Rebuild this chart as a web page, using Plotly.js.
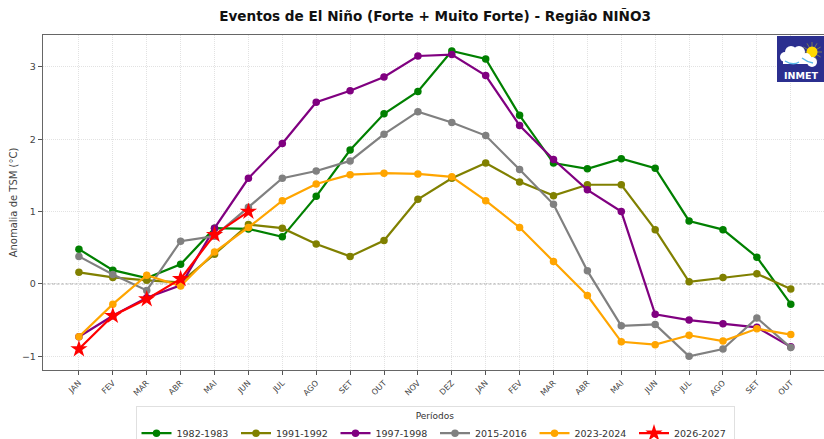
<!DOCTYPE html>
<html><head><meta charset="utf-8">
<script src="https://cdn.plot.ly/plotly-3.0.1.min.js"></script>
<style>html,body{margin:0;padding:0;background:#fff;overflow:hidden}#c{width:824px;height:439px}</style>
</head><body><div id="c"></div>
<script>
const months = ['JAN','FEV','MAR','ABR','MAI','JUN','JUL','AGO','SET','OUT','NOV','DEZ','JAN','FEV','MAR','ABR','MAI','JUN','JUL','AGO','SET','OUT'];
const v1982 = [0.48,0.19,0.08,0.27,0.77,0.76,0.65,1.21,1.85,2.35,2.66,3.22,3.11,2.33,1.67,1.59,1.73,1.60,0.87,0.75,0.37,-0.28];
const v1991 = [0.16,0.09,0.05,0.02,0.41,0.82,0.77,0.55,0.38,0.60,1.17,1.46,1.67,1.41,1.22,1.37,1.37,0.75,0.03,0.09,0.14,-0.07];
const v1997 = [-0.73,-0.44,-0.19,-0.02,0.77,1.46,1.94,2.51,2.67,2.86,3.15,3.17,2.88,2.19,1.72,1.30,1.00,-0.42,-0.50,-0.55,-0.60,-0.87];
const v2015 = [0.38,0.13,-0.09,0.59,0.66,1.06,1.46,1.56,1.70,2.07,2.38,2.23,2.05,1.58,1.10,0.18,-0.58,-0.56,-1.00,-0.90,-0.47,-0.88];
const v2023 = [-0.73,-0.28,0.12,-0.03,0.44,0.78,1.15,1.38,1.51,1.53,1.52,1.48,1.15,0.78,0.31,-0.16,-0.80,-0.84,-0.71,-0.79,-0.62,-0.70];
const v2026 = [-0.90,-0.44,-0.21,0.07,0.68,1.00];
const idx = months.map((_, i) => i);
const font = 'DejaVu Sans, sans-serif';
function tr(name, y, color, star) {
  return {x: idx.slice(0, y.length), y, name, type: 'scatter', mode: 'lines+markers',
    line: {color, width: 2.2},
    marker: {color, size: star ? 13 : 7.5, symbol: star ? 'star' : 'circle', line: {width: 0}}};
}
const traces = [
  tr('1982-1983', v1982, 'green'),
  tr('1991-1992', v1991, 'olive'),
  tr('1997-1998', v1997, 'purple'),
  tr('2015-2016', v2015, 'gray'),
  tr('2023-2024', v2023, 'orange'),
  tr('2026-2027', v2026, 'red', true)
];
const L = 43, T = 35, W = 781, H = 335;
const px = x => (x - L) / W, py = y => 1 - (y - T) / H;
const logo = '<svg xmlns="http://www.w3.org/2000/svg" width="188" height="184" viewBox="0 0 47 46">' +
  '<rect width="47" height="46" fill="#2b2f8f"/>' +
  '<g stroke="#8a8a50" stroke-width="0.8">' +
  [0,30,60,90,120,150,180,210,240,270,300,330].map(a => `<line x1="35" y1="16" x2="${35+10*Math.cos(a*Math.PI/180)}" y2="${16+10*Math.sin(a*Math.PI/180)}"/>`).join('') +
  '</g><circle cx="35" cy="16" r="5.5" fill="#ffd900"/>' +
  '<g fill="#fff"><circle cx="8" cy="21" r="5"/><circle cx="14" cy="16" r="6"/><circle cx="22" cy="16" r="6"/><circle cx="29" cy="22" r="5"/><circle cx="35" cy="26" r="5"/><rect x="6" y="20" width="28" height="8"/></g>' +
  '<path d="M8 25 Q16 30 22 26 M25 22 Q30 26 36 27" stroke="#5ab8e8" stroke-width="1.4" fill="none"/></svg>';
const layout = {
  width: 824, height: 439,
  margin: {l: L, r: 0, t: T, b: 69, pad: 0, autoexpand: false},
  paper_bgcolor: '#fff', plot_bgcolor: '#fff',
  font: {family: font, color: '#333'},
  title: {text: '<b>Eventos de El Niño (Forte + Muito Forte) - Região NIÑO3</b>', font: {family: font, size: 13.6, color: '#111'}, x: 0.528, xref: 'container', xanchor: 'center', y: 0.963, yanchor: 'middle'},
  xaxis: {range: [-1.06, 21.98], tickvals: idx, ticktext: months, tickangle: -45,
    tickfont: {family: font, size: 8, color: '#444'}, ticks: 'outside', ticklen: 4, tickcolor: '#555',
    showgrid: true, gridcolor: '#e2e2e2', griddash: '1px,1px', gridwidth: 1, zeroline: false,
    showline: true, linecolor: '#666', linewidth: 1.4, mirror: true},
  yaxis: {range: [-1.19, 3.44], tickvals: [-1, 0, 1, 2, 3], ticktext: ['−1', '0', '1', '2', '3'],
    tickfont: {family: font, size: 9.5, color: '#444'}, ticks: 'outside', ticklen: 4, tickcolor: '#555',
    title: {text: 'Anomalia de TSM (°C)', font: {family: font, size: 10, color: '#444'}, standoff: 2},
    showgrid: true, gridcolor: '#e2e2e2', griddash: '1px,1px', gridwidth: 1, zeroline: false,
    showline: true, linecolor: '#666', linewidth: 1.4, mirror: true},
  legend: {orientation: 'h', x: px(435), xanchor: 'center', y: py(406), yanchor: 'top',
    title: {text: 'Períodos', side: 'top center', font: {family: font, size: 9, color: '#333'}},
    font: {family: font, size: 9.5, color: '#333'}, bgcolor: '#fff', bordercolor: '#e0e0e0', borderwidth: 1,
    itemwidth: 30, entrywidth: 54.5, entrywidthmode: 'pixels', tracegroupgap: 0},
  shapes: [{type: 'line', xref: 'paper', x0: 0, x1: 1, yref: 'y', y0: 0, y1: 0, line: {color: '#888', width: 0.8, dash: '3px,1.5px'}, layer: 'between'}],
  images: [{source: 'data:image/svg+xml;utf8,' + encodeURIComponent(logo), xref: 'paper', yref: 'paper',
    x: px(777), y: py(36), sizex: 47 / W, sizey: 46 / H, xanchor: 'left', yanchor: 'top', sizing: 'stretch', layer: 'above'}],
  annotations: [{text: '<b>INMET</b>', xref: 'paper', yref: 'paper', x: px(801), y: py(75), xanchor: 'center', yanchor: 'middle', showarrow: false, font: {family: font, size: 9.5, color: '#fff'}}]
};
Plotly.newPlot('c', traces, layout, {displayModeBar: false, responsive: false});
</script></body></html>
